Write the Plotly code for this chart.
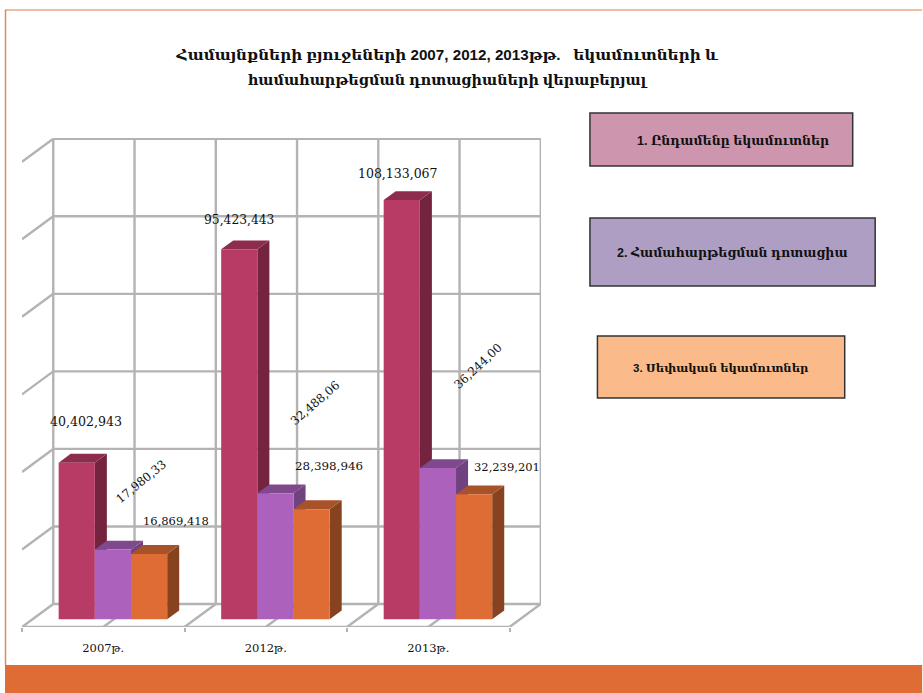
import plotly.graph_objects as go

# ---------- data ----------
years = ["2007թ.", "2012թ.", "2013թ."]
total_revenue = [40.402943, 95.423443, 108.133067]
equalization = [17.98033, 32.48806, 39.0]
own_revenue = [16.869418, 28.398946, 32.239201]
total_labels = ["40,402,943", "95,423,443", "108,133,067"]
equalization_labels = ["17,980,33", "32,488,06", "36,244,00"]
own_labels = ["16,869,418", "28,398,946", "32,239,201"]
legend_texts = ["1. Ընդամենը եկամուտներ", "2. Համահարթեցման դոտացիա", "3. Սեփական եկամուտներ"]
title_line1 = "Համայնքների բյուջեների 2007, 2012, 2013թթ. &nbsp; եկամուտների և"
title_line2 = "համահարթեցման դոտացիաների վերաբերյալ"
grid_values = [0, 20, 40, 60, 80, 100, 120]

# ---------- layout constants ----------
W, H = 923, 693
L, R, T, B = 22.0, 541.5, 138.0, 627.0      # plot area in page pixels
PX_X = 162.67       # pixels per group
PX_Y = 3.877        # pixels per million
DX = 31.3 / PX_X    # shear of the full depth of the floor
DV = 23.0 / PX_Y
D0, D1 = 0.335, 0.72   # depth of the bar's front and back
BAR_W = 36.2 / PX_X
BAR_START = 36.7 / PX_X
XR = [0, (R - L) / PX_X]
YR = [-(B - 619.3) / PX_Y, (619.3 - T) / PX_Y]

def px(x): return (x - L) / (R - L)
def py(y): return (B - y) / (B - T)

def proj(x, v, d):
    """bar faces: depth d relative to the plane of the bars' front"""
    return x + (d - D0) * DX, v + (d - D0) * DV

def wall(x, v, d):
    """chart box: depth d measured from the front edge of the floor"""
    return x + d * DX, v + (d - D0) * DV

SERIES = [
    dict(name="Ընդամենը եկամուտներ", vals=total_revenue, labels=total_labels,
         front="#B83B65", top="#8E2C4E", side="#74243F", size=[12.6, 12.3, 12.5],
         dx=[9.6, -0.3, -3.3], dy=[-40.8, -29.5, -26.6], ang=[0, 0, 0]),
    dict(name="Համահարթեցման դոտացիա", vals=equalization, labels=equalization_labels,
         front="#AC62BC", top="#81498D", side="#714280", size=[11.8, 11.8, 11.8],
         dx=[27.7, 39.7, 40.3], dy=[-68, -90.3, -102], ang=[-39, -41, -43]),
    dict(name="Սեփական եկամուտներ", vals=own_revenue, labels=own_labels,
         front="#DF6B35", top="#A8522A", side="#874320", size=[11.5, 11.9, 11.5],
         dx=[26.5, 17.6, 33.3], dy=[-32.6, -43.2, -27.3], ang=[0, 0, 0]),
]

fig = go.Figure()
GRID = "#B3B3B3"

def gline(xs, ys):
    fig.add_trace(go.Scatter(x=xs, y=ys, mode="lines", line=dict(color=GRID, width=2.4),
                             hoverinfo="skip", showlegend=False, cliponaxis=False))

# back wall, left stubs
for t in grid_values:
    x0, y0 = wall(0, t, 1)
    x1, y1 = wall(3, t, 1)
    gline([x0, x1], [y0, y1])
    xa, ya = wall(0, t, 0)
    if t > 0:
        gline([xa, x0], [ya, y0])
    else:
        xb, yb = wall(3, t, 0)
        gline([xa, xb], [ya, yb])
# verticals on wall and floor lines
for k in range(7):
    g = k * 0.5
    x0, y0 = wall(g, 0, 1)
    x1, y1 = wall(g, grid_values[-1], 1)
    gline([x0, x1], [y0, y1])
    xa, ya = wall(g, 0, 0)
    gline([xa, x0], [ya, y0])

# side and top faces
for i, s in enumerate(SERIES):
    for g, v in enumerate(s["vals"]):
        xl = g + BAR_START + i * BAR_W
        xr = xl + BAR_W
        # side
        pts = [proj(xr, 0, D0), proj(xr, 0, D1), proj(xr, v, D1), proj(xr, v, D0)]
        fig.add_trace(go.Scatter(x=[p[0] for p in pts], y=[p[1] for p in pts], fill="toself",
                                 mode="lines", line=dict(width=0), fillcolor=s["side"],
                                 hoverinfo="skip", showlegend=False, cliponaxis=False))
        # top
        pts = [proj(xl, v, D0), proj(xr, v, D0), proj(xr, v, D1), proj(xl, v, D1)]
        fig.add_trace(go.Scatter(x=[p[0] for p in pts], y=[p[1] for p in pts], fill="toself",
                                 mode="lines", line=dict(width=0), fillcolor=s["top"],
                                 hoverinfo="skip", showlegend=False, cliponaxis=False))

# front faces on overlaid axes so they sit above all the depth faces
for i, s in enumerate(SERIES):
    fig.add_trace(go.Bar(
        x=[g + BAR_START + (i + 0.5) * BAR_W for g in range(len(years))],
        y=s["vals"], width=BAR_W, name=s["name"], xaxis="x2", yaxis="y2",
        marker=dict(color=s["front"], line=dict(width=0)), showlegend=False, cliponaxis=False))

annotations = []
for i, s in enumerate(SERIES):
    for g, v in enumerate(s["vals"]):
        annotations.append(dict(
            x=g + BAR_START + (i + 0.5) * BAR_W, y=v, xref="x2", yref="y2", text=s["labels"][g],
            showarrow=False, xshift=s["dx"][g], yshift=-s["dy"][g], textangle=s["ang"][g],
            xanchor="center", yanchor="middle",
            font=dict(family="DejaVu Serif", size=s["size"][g], color="#111111")))

# legend boxes
BOXES = [(590.5, 853.5, 113, 166, "#CE96AE", 734, 140.5, 12.5),
         (590.5, 876, 218, 286, "#AF9EC3", 733, 253, 12.5),
         (598, 845.5, 336, 398, "#FBBA8A", 721.5, 368, 11.5)]
BOLD = "Liberation Sans, DejaVu Serif"
shapes = []
for (x0, x1, y0, y1, c, tx, ty, fs), txt in zip(BOXES, legend_texts):
    shapes.append(dict(type="rect", xref="paper", yref="paper", x0=px(x0), x1=px(x1), y0=py(y0), y1=py(y1),
                       fillcolor=c, line=dict(color="#333333", width=1.5), layer="above"))
    annotations.append(dict(x=px(tx), y=py(ty), xref="paper", yref="paper", text="<b>%s</b>" % txt, showarrow=False,
                            xanchor="center", yanchor="middle", font=dict(family=BOLD, size=fs, color="#111111")))

# slide frame
ORANGE = "#DF6B35"
shapes += [
    dict(type="rect", xref="paper", yref="paper", x0=px(5), x1=px(W), y0=py(H), y1=py(665),
         fillcolor=ORANGE, line=dict(width=0), layer="below"),
    dict(type="line", xref="paper", yref="paper", x0=px(5.5), x1=px(5.5), y0=py(10), y1=py(665),
         line=dict(color="#E08A60", width=1.5), layer="below"),
    dict(type="line", xref="paper", yref="paper", x0=px(5), x1=px(W), y0=py(10), y1=py(10),
         line=dict(color="#DF7A4A", width=1.2), layer="below"),
]

title_html = ('<b><span style="font-size:15.2px">%s</span><br><span style="font-size:14.4px">%s</span></b>'
              % (title_line1, title_line2))

fig.update_layout(
    width=W, height=H, autosize=False, paper_bgcolor="white", plot_bgcolor="rgba(0,0,0,0)",
    margin=dict(l=L, r=W - R, t=T, b=H - B, pad=0),
    barmode="overlay", showlegend=False,
    title=dict(text=title_html, x=447 / W, xanchor="center", y=1 - 60 / H, yanchor="top",
               font=dict(family=BOLD, size=19, color="#111111")),
    xaxis=dict(range=XR, fixedrange=True, showgrid=False, zeroline=False, showline=False,
               tickmode="array", tickvals=[0.5, 1.5, 2.5], ticktext=years, ticks="", ticklabelstandoff=12,
               tickfont=dict(family="DejaVu Serif", size=11.5, color="#111111"),
               minor=dict(tickmode="array", tickvals=[0, 1, 2, 3], ticks="outside", ticklen=4, tickwidth=1.5, tickcolor=GRID)),
    yaxis=dict(range=YR, fixedrange=True, visible=False),
    xaxis2=dict(range=XR, overlaying="x", visible=False, fixedrange=True),
    yaxis2=dict(range=YR, overlaying="y", visible=False, fixedrange=True),
    shapes=shapes, annotations=annotations,
)

fig.write_html("out.html", config=dict(displayModeBar=False),
               post_script="document.body.style.margin='0';document.body.style.overflow='hidden';")
